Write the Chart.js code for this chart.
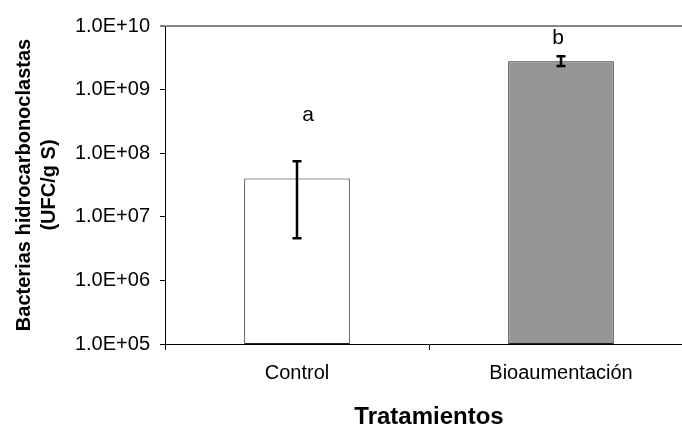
<!DOCTYPE html>
<html>
<head>
<meta charset="utf-8">
<script src="https://cdn.jsdelivr.net/npm/chart.js@4/dist/chart.umd.min.js"></script>
<style>
  html, body { margin: 0; padding: 0; background: #fff; overflow: hidden; }
  #wrap { width: 682px; height: 427px; overflow: hidden; }
</style>
</head>
<body>
<div id="wrap"><canvas id="chart" width="720" height="427"></canvas></div>
<script>
const categories = ['Control', 'Bioaumentación']
const bacteria = [4.0e7, 2.8e9]
const err_low = [4.6e6, 2.35e9]
const err_high = [7.5e7, 3.35e9]
const letters = ['a', 'b']
const letter_values = [4.0e8, 6.5e9]
const bar_colors = ['#ffffff', '#969696']
const y_ticks = [1e5, 1e6, 1e7, 1e8, 1e9, 1e10]
const y_tick_labels = ['1.0E+05', '1.0E+06', '1.0E+07', '1.0E+08', '1.0E+09', '1.0E+10']

const FONT = '"Liberation Sans", Arial, sans-serif'

// error bars + significance letters
const extras = {
    id: 'extras',
    afterDatasetsDraw(chart) {
        const ctx = chart.ctx
        const x = chart.scales.x, y = chart.scales.y
        ctx.save()
        ctx.strokeStyle = '#000'
        ctx.lineWidth = 2.5
        bacteria.forEach((v, i) => {
            const cx = x.getPixelForValue(i)
            const yl = y.getPixelForValue(err_low[i])
            const yh = y.getPixelForValue(err_high[i])
            ctx.beginPath()
            ctx.moveTo(cx, yl); ctx.lineTo(cx, yh)
            ctx.moveTo(cx - 4.5, yl); ctx.lineTo(cx + 4.5, yl)
            ctx.moveTo(cx - 4.5, yh); ctx.lineTo(cx + 4.5, yh)
            ctx.stroke()
        })
        const dx = [11, -3]
        ctx.fillStyle = '#000'
        ctx.font = '21px ' + FONT
        ctx.textAlign = 'center'
        ctx.textBaseline = 'middle'
        letters.forEach((t, i) => {
            ctx.fillText(t, x.getPixelForValue(i) + dx[i], y.getPixelForValue(letter_values[i]))
        })
        ctx.restore()
    }
}

let bact_chart = new Chart(document.getElementById('chart').getContext('2d'), {
    type: 'bar',
    data: {
        labels: categories,
        datasets: [{
            data: bacteria,
            backgroundColor: bar_colors,
            borderColor: '#222',
            borderWidth: 1,
            borderSkipped: false,
            barPercentage: 0.4,
            categoryPercentage: 1.0
        }]
    },
    options: {
        responsive: false,
        animation: false,
        layout: { padding: { left: 0, top: 26, right: 27, bottom: 0 } },
        plugins: { legend: { display: false }, tooltip: { enabled: false } },
        scales: {
            x: {
                grid: { offset: true, drawOnChartArea: false, tickLength: 6, tickColor: '#000', tickWidth: 1 },
                border: { color: '#000', width: 1 },
                ticks: { color: '#000', padding: 11, font: { family: FONT, size: 20 } },
                title: { display: true, text: 'Tratamientos', color: '#000', padding: { top: 0, bottom: 0 },
                    font: { family: FONT, size: 24, weight: 'bold', lineHeight: 0.8 } },
                afterFit(scale) { scale.height = 83 }
            },
            y: {
                type: 'logarithmic',
                min: 1e5,
                max: 1e10,
                afterBuildTicks(scale) { scale.ticks = y_ticks.map(v => ({ value: v })) },
                grid: {
                    color: c => (c.tick && c.tick.value === 1e10) ? '#888' : 'rgba(0,0,0,0)',
                    lineWidth: c => (c.tick && c.tick.value === 1e10) ? 2 : 1,
                    tickColor: '#000', tickLength: 5, tickWidth: 1
                },
                border: { color: '#000', width: 1 },
                ticks: {
                    color: '#000', padding: 10,
                    font: { family: FONT, size: 20 },
                    callback: v => y_tick_labels[y_ticks.indexOf(v)]
                },
                title: { display: true, text: ['Bacterias hidrocarbonoclastas', '(UFC/g S)'], color: '#000',
                    padding: { top: 12, bottom: 0 },
                    font: { family: FONT, size: 20, weight: 'bold', lineHeight: 1.25 } },
                afterFit(scale) { scale.width = 165 }
            }
        }
    },
    plugins: [extras]
})
</script>
</body>
</html>
